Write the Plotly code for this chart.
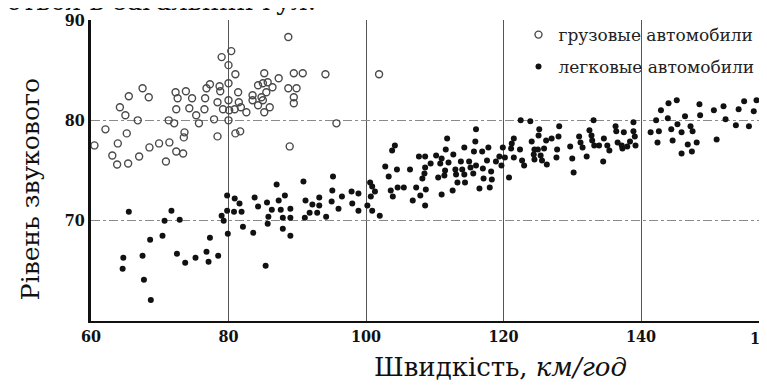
import plotly.graph_objects as go

# Truck (грузовые) points: speed km/h, level dB
truck_x = [88.7, 80.4, 79.0, 80.0, 80.0, 81.0, 85.2, 87.3, 89.5, 90.8, 94.1,
           67.5, 65.5, 68.4, 72.3, 72.6, 73.8, 74.7, 76.8, 77.3, 76.6, 78.7, 78.8,
           81.4, 80.0, 78.4, 81.5, 79.2, 80.1, 80.9, 81.8, 82.6, 83.5, 83.5, 84.3,
           85.0, 85.7, 86.4, 85.5, 84.8, 85.0, 84.3, 86.0, 85.2, 88.7, 89.9, 89.5,
           89.5, 64.2, 65.0, 66.8, 72.4, 74.3, 76.5, 75.3, 71.3, 72.1, 75.7, 77.9,
           80.0, 95.7, 62.1, 65.2, 73.6, 73.5, 78.4, 81.0, 81.7, 63.9, 68.5, 69.9,
           71.4, 60.5, 88.9, 63.1, 63.8, 65.4, 67.0, 70.9, 72.4, 73.4, 101.9]
truck_y = [88.3, 86.9, 86.3, 85.5, 83.7, 84.6, 84.7, 84.2, 84.7, 84.7, 84.6,
           83.2, 82.4, 82.3, 82.8, 82.2, 82.9, 82.2, 83.2, 83.6, 82.2, 83.4, 82.9,
           82.8, 82.0, 81.8, 81.8, 81.1, 81.0, 81.1, 81.3, 80.8, 82.5, 82.0, 83.5,
           83.7, 83.8, 83.3, 82.8, 82.3, 82.0, 81.5, 81.3, 80.8, 83.2, 83.2, 82.3,
           81.7, 81.3, 80.5, 80.0, 81.1, 81.2, 81.1, 80.5, 80.0, 79.7, 79.7, 80.1,
           80.0, 79.7, 79.1, 78.7, 78.8, 78.3, 78.4, 78.7, 78.9, 77.7, 77.3, 77.7,
           77.8, 77.5, 77.4, 76.5, 75.6, 75.7, 76.4, 75.9, 76.9, 76.7, 84.6]

# Passenger car (легковые) points
car_x = [65.5, 71.7, 70.7, 72.9, 68.6, 70.4, 64.7, 64.6, 67.5, 67.7, 68.7, 72.5,
         73.7, 75.2, 76.8, 77.1, 77.3, 78.5, 79.0, 79.3, 79.8, 79.8, 79.9, 80.9,
         81.6, 80.8, 81.9, 82.1, 83.8, 84.3, 83.6, 85.6, 86.3, 85.8, 85.7, 85.4,
         87.0, 87.3, 87.6, 88.2, 87.9, 87.9, 89.0, 89.0, 89.0, 90.9, 91.2, 91.1,
         92.2, 91.8, 93.2, 93.2, 92.9, 94.2, 95.2, 95.1, 95.0, 96.0, 96.5, 97.9,
         98.0, 98.9, 98.9,
         100.2, 100.9, 102.0, 100.6, 100.9, 101.3, 100.7, 102.8, 103.3, 103.8,
         104.2, 104.5, 103.6, 103.9, 104.6, 105.5, 106.4, 106.8, 107.3, 107.7,
         108.6, 107.9, 108.7, 108.6, 108.2, 108.5, 108.6, 109.4, 110.2, 110.5,
         110.8, 111.0, 111.0, 111.4, 111.6, 111.8, 111.5, 112.0, 112.7, 112.6,
         113.0, 113.1, 113.3, 113.8, 114.0, 114.3, 114.4, 114.3, 115.0, 115.2,
         115.6, 115.7, 115.9, 116.0, 116.0, 116.5, 116.9, 117.0, 117.1, 117.6,
         117.8, 118.0, 118.2, 118.3, 118.9, 119.4, 119.7, 119.9, 120.2, 120.8,
         121.1, 121.2, 121.5, 121.5, 122.4, 122.5, 123.9, 122.7, 123.0, 124.1,
         124.5, 124.4, 124.5, 125.2, 125.1, 125.0, 125.4, 125.6, 125.9, 126.2,
         126.3, 127.0, 127.8, 127.7, 128.0, 128.1,
         129.7, 130.0, 130.2, 131.0, 131.2, 131.5, 132.1, 132.5, 132.8, 132.9,
         133.1, 133.2, 133.9, 134.5, 134.6, 135.1, 135.4, 136.3, 136.4, 136.6,
         137.2, 137.3, 137.5, 138.0, 138.4, 138.9, 138.9, 139.1, 139.2, 141.4,
         142.2, 142.4, 142.9, 142.6, 143.9, 144.0, 144.4, 144.6, 145.2, 145.3,
         145.9, 145.9, 146.4, 146.8, 147.2, 147.5, 147.4, 148.1, 148.5, 148.6,
         150.6, 151.0, 152.0, 152.3, 153.8, 154.2, 155.0, 155.7, 156.4, 156.8,
         158.9, 159.3, 159.3]
car_y = [70.9, 71.0, 70.0, 70.1, 68.1, 68.5, 66.3, 65.2, 66.5, 64.1, 62.1, 66.7,
         65.8, 66.3, 66.9, 65.9, 68.3, 66.5, 70.5, 70.0, 72.5, 71.0, 68.7, 72.2,
         71.7, 70.9, 70.9, 69.4, 72.3, 71.4, 68.8, 71.8, 71.1, 70.4, 69.7, 65.5,
         73.6, 72.0, 71.1, 72.5, 70.3, 69.2, 71.2, 70.3, 68.5, 73.9, 72.0, 70.3,
         71.6, 70.8, 72.3, 71.5, 70.8, 70.4, 74.4, 73.0, 71.9, 71.2, 72.4, 72.9,
         71.7, 72.7, 71.0,
         71.5, 71.0, 70.5, 73.8, 73.4, 72.9, 72.4, 75.4, 74.4, 77.0,
         77.5, 75.1, 73.0, 72.4, 73.3, 73.3, 75.1, 72.0, 73.3, 76.4,
         76.4, 72.5, 73.1, 71.5, 74.2, 74.7, 75.3, 75.7, 76.5, 74.3,
         75.7, 76.2, 72.6, 74.5, 77.1, 78.2, 75.0, 75.8, 76.6, 73.0,
         75.1, 74.6, 73.8, 75.9, 75.1, 74.6, 73.8, 77.3, 75.9, 75.3,
         74.7, 76.9, 77.9, 79.1, 75.5, 73.2, 76.9, 75.2, 74.2, 76.0,
         77.3, 73.3, 74.9, 74.1, 75.9, 76.4, 75.5, 77.3, 76.3, 74.3,
         77.2, 77.7, 78.2, 76.3, 77.1, 80.0, 79.9, 76.0, 75.5, 77.9,
         77.1, 76.6, 76.1, 79.1, 78.5, 77.1, 76.5, 76.0, 77.2, 78.0,
         75.6, 78.2, 77.1, 76.3, 78.4, 79.4,
         77.4, 76.2, 74.8, 78.4, 77.8, 77.3, 76.4, 79.0, 78.5, 78.0,
         80.0, 77.5, 77.5, 75.9, 78.2, 77.5, 77.0, 79.4, 78.9, 77.8,
         77.5, 77.2, 78.8, 77.4, 77.9, 79.8, 78.9, 78.4, 77.5, 78.8,
         80.0, 77.8, 81.0, 78.9, 80.2, 81.7, 79.1, 78.0, 82.0, 79.6,
         78.8, 76.7, 80.4, 77.6, 79.4, 78.9, 76.9, 77.8, 81.6, 80.5,
         81.0, 78.1, 81.4, 80.1, 79.5, 81.1, 81.9, 79.4, 80.9, 82.0,
         81.7, 82.6, 79.0]

x_ticks = [60, 80, 100, 120, 140, 160]
y_ticks = [70, 80, 90]

serif = "DejaVu Serif"
tickserif = "DejaVu Serif Condensed, DejaVu Serif"

fig = go.Figure()
fig.add_trace(go.Scatter(
    x=truck_x, y=truck_y, mode="markers", name="грузовые автомобили",
    marker=dict(symbol="circle-open", size=7, color="#4a4a4a", line=dict(width=1.4)),
    legend="legend",
))
fig.add_trace(go.Scatter(
    x=car_x, y=car_y, mode="markers", name="легковые автомобили",
    marker=dict(symbol="circle", size=6, color="#111111"),
    legend="legend2",
))

leg_common = dict(xanchor="left", yanchor="middle", bgcolor="rgba(0,0,0,0)",
                  font=dict(family=serif, size=17, color="#222"), itemwidth=30)
fig.update_layout(
    width=767, height=385,
    margin=dict(l=83, r=0, t=12, b=72),
    paper_bgcolor="white", plot_bgcolor="white",
    showlegend=True,
    legend=dict(x=0.625, y=0.950, **leg_common),
    legend2=dict(x=0.625, y=0.844, **leg_common),
    font=dict(family=serif, color="#111"),
)
fig.update_xaxes(
    range=[60, 159.49], tickvals=x_ticks, ticktext=[str(v) for v in x_ticks],
    showgrid=True, gridcolor="#555", gridwidth=1,
    showline=True, linecolor="#111", linewidth=2, mirror=False,
    zeroline=False, ticks="", automargin=False,
    tickfont=dict(family=tickserif, size=16, color="#111", weight="bold"),
)
fig.update_yaxes(
    range=[60, 90], tickvals=y_ticks, ticktext=[str(v) for v in y_ticks],
    showgrid=True, gridcolor="#8a8a8a", gridwidth=1, griddash="dashdot",
    showline=True, linecolor="#111", linewidth=3,
    zeroline=False, ticks="", automargin=False,
    tickfont=dict(family=tickserif, size=16, color="#111", weight="bold"),
)

annotations = [
    dict(text="Швидкість, <i>км/год</i>", xref="paper", yref="paper",
         x=0.598, y=-0.153, xanchor="center", yanchor="middle", showarrow=False,
         font=dict(family=serif, size=26, color="#111")),
    dict(text="Рівень звукового", xref="paper", yref="paper", textangle=-90,
         x=-0.089, y=0.4385, xanchor="center", yanchor="middle", showarrow=False,
         font=dict(family=serif, size=25, color="#111")),
    dict(text="зливаються в загальний гул.", xref="paper", yref="paper",
         x=0.332, y=1.0, yshift=2, xanchor="right", yanchor="bottom", showarrow=False,
         font=dict(family=serif, size=26, color="#111")),
    dict(text="<b>160</b>", xref="paper", yref="paper", x=0.985, y=0, yshift=-17,
         xanchor="center", yanchor="middle", showarrow=False,
         font=dict(family=tickserif, size=16, color="#111")),
]
fig.update_layout(annotations=annotations)

fig.write_html("out.html")
